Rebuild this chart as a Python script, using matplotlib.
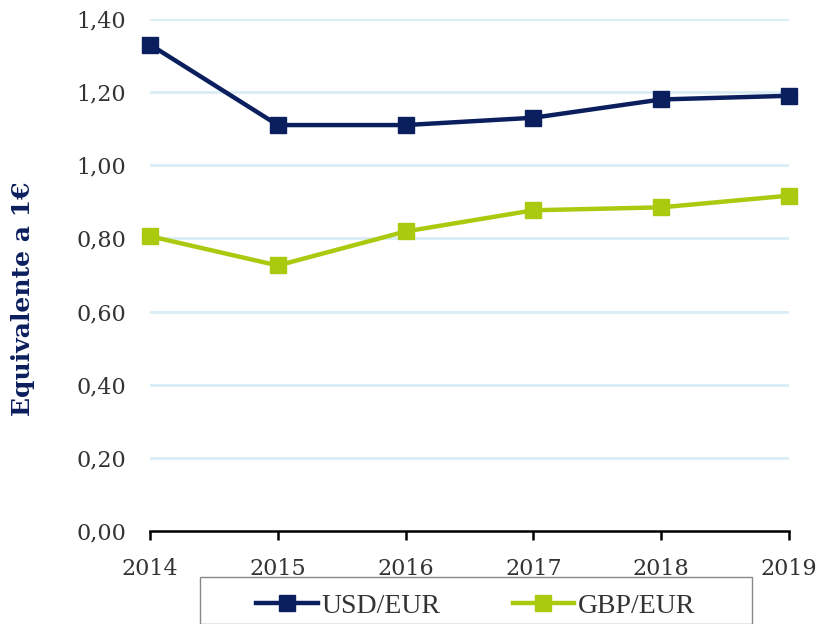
import matplotlib.pyplot as plt
from matplotlib.patches import Rectangle

# Exchange rates, equivalent of 1 EUR
years = [2014, 2015, 2016, 2017, 2018, 2019]
usd_eur = [1.33, 1.11, 1.11, 1.13, 1.18, 1.19]
gbp_eur = [0.806, 0.726, 0.819, 0.877, 0.885, 0.917]
y_ticks = [0.0, 0.2, 0.4, 0.6, 0.8, 1.0, 1.2, 1.4]

navy = "#0B1F5E"
green = "#A9CA0E"

fig = plt.figure(figsize=(8.21, 6.24), dpi=100)
ax = fig.add_axes([150 / 821, 1 - 531 / 624, 639 / 821, 512 / 624])

ax.plot(years, usd_eur, color=navy, lw=3.2, marker="s", ms=12,
        label="USD/EUR", clip_on=False, zorder=3)
ax.plot(years, gbp_eur, color=green, lw=3.2, marker="s", ms=12,
        label="GBP/EUR", clip_on=False, zorder=3)

ax.set_xlim(2014, 2019)
ax.set_ylim(0, 1.4)
ax.set_xticks(years)
ax.set_yticks(y_ticks)
ax.set_yticklabels([f"{v:.2f}".replace(".", ",") for v in y_ticks])

for y in y_ticks[1:]:
    ax.axhline(y, color="#D9EDF6", lw=2, zorder=1)

for s in ["top", "right", "left"]:
    ax.spines[s].set_visible(False)
ax.spines["bottom"].set_linewidth(1.8)
ax.tick_params(axis="y", length=0, pad=17, labelsize=16, labelcolor="#333333")
ax.tick_params(axis="x", length=6.5, width=1.8, direction="out", pad=13,
               labelsize=16, labelcolor="#333333")
for lab in ax.get_xticklabels() + ax.get_yticklabels():
    lab.set_fontfamily("DejaVu Serif")

ax.set_ylabel("Equivalente a 1€", fontsize=18, fontweight="bold",
              color=navy, family="DejaVu Serif")
ax.yaxis.set_label_coords(-0.18, 0.453)

# legend box drawn separately so its width matches
fig.patches.append(Rectangle((200 / 821, 0), 552 / 821, 1 - 583 / 624 + 0.01,
                             transform=fig.transFigure, fill=False,
                             edgecolor="#888888", lw=1.0))
leg = fig.legend(loc="center", bbox_to_anchor=(476 / 821, 1 - 606 / 624),
                 ncol=2, frameon=False,
                 prop={"family": "Liberation Serif", "size": 20},
                 handlelength=2.2, columnspacing=2.6,
                 handletextpad=0.15, borderaxespad=0)
for t in leg.get_texts():
    t.set_color("#333333")

fig.savefig("out.png", dpi=100)
